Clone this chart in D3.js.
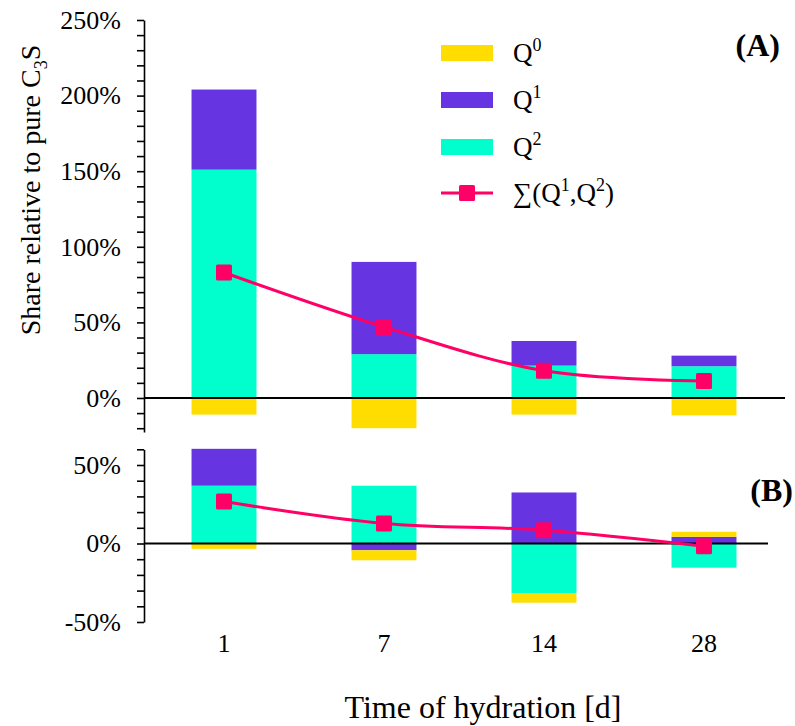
<!DOCTYPE html>
<html>
<head>
<meta charset="utf-8">
<title>Share relative to pure C3S</title>
<script src="https://cdnjs.cloudflare.com/ajax/libs/d3/7.8.5/d3.min.js"></script>
<style>
  body { margin: 0; background: #fff; }
  svg text { font-family: "Liberation Serif", "DejaVu Serif", serif; fill: #000; }
  .axis path, .axis line { stroke: #000; stroke-width: 1.6; }
</style>
</head>
<body>
<svg id="chart" width="795" height="726"></svg>
<script>
// hydration days
var days = ["1", "7", "14", "28"];

// panel A values (%)
var q0A = [-11, -20, -11, -11.5];
var q1A = [53, 61, 16.3, 7];
var q2A = [151, 29, 21.4, 21];
var sumA = [83, 47, 18, 11.2];

// panel B values (%)
var q0B = [-3.4, -6.4, -6.1, 3.2];
var q1B = [23.5, -4.3, 32.5, 4.3];
var q2B = [36.8, 36.8, -31.6, -15.4];
var sumB = [26.7, 12.8, 8.5, -1.7];

var colors = { Q0: "#FFDD00", Q1: "#6635E1", Q2: "#00FFCC" };
var lineColor = "#FF0066";

var svg = d3.select("#chart");

var x = d3.scaleBand()
  .domain(days)
  .range([144, 784])
  .paddingInner(0.594)
  .paddingOuter(0.297);

function makeRows(q0, q1, q2) {
  return days.map(function(d, i) {
    return { day: d, Q0: q0[i], Q1: q1[i], Q2: q2[i] };
  });
}

var stack = d3.stack()
  .keys(["Q2", "Q1", "Q0"])
  .offset(d3.stackOffsetDiverging);

function drawPanel(rows, sums, y, zeroEnd, ticks) {
  var g = svg.append("g");

  g.append("g")
    .selectAll("g")
    .data(stack(rows))
    .enter().append("g")
      .attr("fill", function(s) { return colors[s.key]; })
    .selectAll("rect")
    .data(function(s) { return s; })
    .enter().append("rect")
      .attr("x", function(d) { return x(d.data.day); })
      .attr("width", x.bandwidth())
      .attr("y", function(d) { return y(Math.max(d[0], d[1])); })
      .attr("height", function(d) { return Math.abs(y(d[0]) - y(d[1])); });

  // zero line
  g.append("line")
    .attr("x1", 144).attr("x2", zeroEnd)
    .attr("y1", y(0)).attr("y2", y(0))
    .attr("stroke", "#000").attr("stroke-width", 2);

  var axis = d3.axisLeft(y)
    .tickValues(ticks)
    .tickSize(7)
    .tickSizeOuter(0)
    .tickPadding(16)
    .tickFormat(function(v) { return v % 50 === 0 ? v + "%" : ""; });

  g.append("g")
    .attr("class", "axis")
    .attr("transform", "translate(144,0)")
    .call(axis)
    .call(function(a) {
      a.selectAll("text").style("font-size", "26px").attr("fill", "#000")
        .style("font-family", "'Liberation Serif', serif");
    });

  var pts = days.map(function(d, i) {
    return [x(d) + x.bandwidth() / 2, y(sums[i])];
  });

  g.append("path")
    .attr("d", d3.line().curve(d3.curveCatmullRom.alpha(0.5))(pts))
    .attr("fill", "none")
    .attr("stroke", lineColor)
    .attr("stroke-width", 3);

  g.selectAll("rect.marker")
    .data(pts)
    .enter().append("rect")
      .attr("class", "marker")
      .attr("x", function(p) { return p[0] - 8; })
      .attr("y", function(p) { return p[1] - 8; })
      .attr("width", 16).attr("height", 16)
      .attr("rx", 1.5)
      .attr("fill", lineColor);
}

var yA = d3.scaleLinear().domain([-22.5, 250]).range([432, 20]);
var yB = d3.scaleLinear().domain([-50, 60]).range([622, 449.3]);

drawPanel(makeRows(q0A, q1A, q2A), sumA, yA, 785, d3.range(-20, 251, 10));
drawPanel(makeRows(q0B, q1B, q2B), sumB, yB, 768, d3.range(-50, 61, 10));

// x labels
svg.append("g")
  .selectAll("text")
  .data(days)
  .enter().append("text")
    .attr("x", function(d) { return x(d) + x.bandwidth() / 2; })
    .attr("y", 652)
    .attr("text-anchor", "middle")
    .style("font-size", "26px")
    .text(function(d) { return d; });

svg.append("text")
  .attr("x", 483).attr("y", 718)
  .attr("text-anchor", "middle")
  .style("font-size", "32px")
  .text("Time of hydration [d]");

// y title
var yt = svg.append("text")
  .attr("transform", "translate(40,190) rotate(-90)")
  .attr("text-anchor", "middle")
  .style("font-size", "28px");
yt.append("tspan").text("Share relative to pure C");
yt.append("tspan").attr("dy", 7).style("font-size", "18px").text("3");
yt.append("tspan").attr("dy", -7).text("S");

// panel letters
svg.append("text").attr("x", 780).attr("y", 56).attr("text-anchor", "end")
  .style("font-size", "32px").style("font-weight", "bold").text("(A)");
svg.append("text").attr("x", 793).attr("y", 501).attr("text-anchor", "end")
  .style("font-size", "32px").style("font-weight", "bold").text("(B)");

// legend
var legendItems = [
  { key: "Q0", sup: "0" },
  { key: "Q1", sup: "1" },
  { key: "Q2", sup: "2" }
];
var leg = svg.append("g");
legendItems.forEach(function(it, i) {
  var cy = 53 + i * 47;
  leg.append("rect")
    .attr("x", 441).attr("y", cy - 8)
    .attr("width", 52).attr("height", 16)
    .attr("fill", colors[it.key]);
  var t = leg.append("text").attr("x", 513).attr("y", cy + 9).style("font-size", "27px");
  t.append("tspan").text("Q");
  t.append("tspan").attr("dy", -11).style("font-size", "18px").text(it.sup);
});
var ly = 193;
leg.append("line")
  .attr("x1", 441).attr("x2", 493).attr("y1", ly).attr("y2", ly)
  .attr("stroke", lineColor).attr("stroke-width", 3);
leg.append("rect")
  .attr("x", 459).attr("y", ly - 8).attr("width", 16).attr("height", 16)
  .attr("rx", 1.5).attr("fill", lineColor);
var st = leg.append("text").attr("x", 513).attr("y", ly + 9).style("font-size", "27px");
st.append("tspan").text("\u2211(Q");
st.append("tspan").attr("dy", -11).style("font-size", "18px").text("1");
st.append("tspan").attr("dy", 11).text(",Q");
st.append("tspan").attr("dy", -11).style("font-size", "18px").text("2");
st.append("tspan").attr("dy", 11).text(")");
</script>
</body>
</html>
